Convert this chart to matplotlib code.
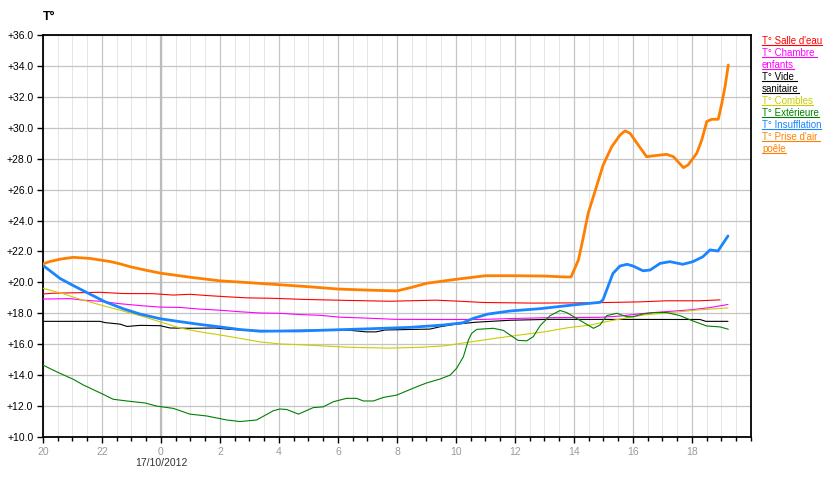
import matplotlib
matplotlib.use("Agg")
import matplotlib.pyplot as plt
from matplotlib.lines import Line2D
import numpy as np

plt.rcParams['font.family'] = ['Liberation Sans', 'DejaVu Sans']

# hours since 20:00 on 16/10/2012
x_tick_hours = [0, 2, 4, 6, 8, 10, 12, 14, 16, 18, 20, 22]
x_tick_labels = ["20", "22", "0", "2", "4", "6", "8", "10", "12", "14", "16", "18"]
date_label = "17/10/2012"
y_ticks = [10, 12, 14, 16, 18, 20, 22, 24, 26, 28, 30, 32, 34, 36]

salle_h = [0.0, 0.35, 1.93, 2.7, 3.73, 4.41, 4.98, 5.55, 6.23, 6.9, 7.8, 8.82, 10.18, 11.76, 13.3, 14.14, 14.93,
           16.62, 18.43, 19.45, 20.24, 21.14, 22.27, 22.95]
salle_v = [19.25, 19.3, 19.36, 19.28, 19.27, 19.18, 19.23, 19.15, 19.07, 19.0, 18.97, 18.9, 18.84, 18.78, 18.85,
           18.78, 18.7, 18.66, 18.68, 18.71, 18.74, 18.81, 18.81, 18.87]

chambre_h = [0.0, 0.92, 1.36, 1.93, 2.61, 3.29, 3.97, 4.64, 5.32, 6.0, 6.68, 7.36, 8.03, 8.71, 9.39, 10.07, 11.08,
             11.93, 13.46, 14.81, 15.83, 17.19, 18.88, 19.56, 20.24, 20.92, 21.93, 22.61, 23.22]
chambre_v = [18.92, 18.95, 18.85, 18.78, 18.62, 18.5, 18.4, 18.38, 18.27, 18.2, 18.1, 18.02, 18.0, 17.92, 17.87,
             17.75, 17.68, 17.61, 17.6, 17.6, 17.66, 17.72, 17.74, 17.82, 17.97, 18.08, 18.22, 18.37, 18.57]

vide_h = [0.0, 1.93, 2.1, 2.61, 2.85, 3.29, 3.97, 4.31, 4.98, 5.83, 6.34, 7.02, 7.86, 8.71, 9.73, 10.41, 10.95,
          11.29, 11.59, 13.12, 13.46, 13.97, 14.64, 15.83, 17.19, 22.27, 22.47, 23.22]
vide_v = [17.48, 17.48, 17.4, 17.3, 17.15, 17.22, 17.2, 17.05, 17.03, 17.05, 16.96, 16.9, 16.88, 16.9, 16.92, 16.9,
          16.8, 16.8, 16.92, 16.98, 17.13, 17.29, 17.42, 17.55, 17.61, 17.6, 17.48, 17.48]

combles_h = [0.0, 0.68, 1.15, 1.93, 2.61, 3.29, 3.97, 4.64, 5.32, 6.0, 6.68, 7.36, 8.03, 8.71, 9.39, 10.4, 11.76,
             12.78, 13.63, 14.14, 15.32, 16.17, 17.02, 17.8, 18.54, 19.39, 20.34, 21.25, 22.1, 23.22]
combles_v = [19.62, 19.27, 18.97, 18.55, 18.2, 17.85, 17.45, 17.05, 16.8, 16.6, 16.38, 16.15, 16.02, 15.97, 15.9,
             15.8, 15.75, 15.8, 15.9, 16.05, 16.38, 16.6, 16.81, 17.07, 17.24, 17.57, 17.89, 18.04, 18.2, 18.35]

ext_h = [0.0, 0.46, 1.03, 1.37, 1.93, 2.38, 2.84, 3.46, 3.85, 4.42, 4.98, 5.55, 6.23, 6.68, 7.24, 7.81, 8.03, 8.26,
         8.66, 9.16, 9.5, 9.84, 10.29, 10.63, 10.86, 11.2, 11.54, 11.99, 12.67, 13.01, 13.46, 13.8, 14.02, 14.25,
         14.42, 14.53, 14.7, 15.26, 15.6, 15.83, 16.1, 16.4, 16.62, 16.85, 17.19, 17.53, 17.75, 18.09, 18.43, 18.66,
         18.88, 19.11, 19.45, 19.79, 20.01, 20.35, 20.69, 21.14, 21.59, 22.04, 22.5, 22.95, 23.23]
ext_v = [14.65, 14.22, 13.73, 13.36, 12.86, 12.44, 12.33, 12.2, 12.0, 11.85, 11.48, 11.36, 11.1, 11.0, 11.1, 11.7,
         11.81, 11.78, 11.48, 11.9, 11.95, 12.28, 12.5, 12.5, 12.33, 12.33, 12.56, 12.71, 13.25, 13.5, 13.75, 14.0,
         14.44, 15.19, 16.27, 16.7, 16.96, 17.03, 16.9, 16.6, 16.25, 16.22, 16.49, 17.2, 17.85, 18.18, 18.05, 17.67,
         17.29, 17.03, 17.24, 17.85, 18.0, 17.78, 17.78, 17.96, 18.05, 18.05, 17.85, 17.5, 17.18, 17.12, 16.97]

insuf_h = [0.0, 0.58, 1.02, 1.53, 2.1, 2.71, 3.29, 3.97, 4.64, 5.32, 6.0, 6.68, 7.36, 7.86, 8.71, 9.73, 11.08, 12.44,
           13.56, 14.24, 14.58, 15.08, 15.83, 16.85, 17.97, 18.88, 18.98, 19.15, 19.32, 19.56, 19.8, 20.0, 20.34,
           20.58, 20.92, 21.25, 21.69, 22.03, 22.37, 22.61, 22.88, 23.22]
insuf_v = [21.1, 20.25, 19.8, 19.3, 18.75, 18.3, 17.95, 17.65, 17.46, 17.28, 17.12, 16.95, 16.84, 16.85, 16.86, 16.92,
           17.0, 17.09, 17.24, 17.39, 17.67, 17.95, 18.15, 18.3, 18.54, 18.71, 18.86, 19.72, 20.58, 21.06, 21.17,
           21.06, 20.75, 20.8, 21.23, 21.34, 21.17, 21.34, 21.66, 22.1, 22.03, 23.0]

poele_h = [0.0, 0.24, 0.58, 1.02, 1.59, 1.93, 2.27, 2.61, 2.98, 3.46, 3.97, 5.0, 6.0, 7.0, 8.0, 9.0, 10.0, 11.0,
           12.0, 12.5, 13.0, 14.0, 15.0, 16.0, 17.0, 17.7, 17.9, 18.15, 18.32, 18.48, 18.71, 18.99, 19.28, 19.56,
           19.73, 19.9, 20.18, 20.46, 20.75, 21.14, 21.37, 21.71, 21.87, 22.16, 22.33, 22.5, 22.67, 22.89, 23.01,
           23.12, 23.23]
poele_v = [21.2, 21.35, 21.5, 21.62, 21.55, 21.45, 21.35, 21.2, 21.0, 20.8, 20.6, 20.33, 20.1, 19.98, 19.85, 19.72,
           19.57, 19.5, 19.45, 19.68, 19.94, 20.2, 20.43, 20.43, 20.41, 20.35, 20.35, 21.45, 22.95, 24.47, 25.87,
           27.6, 28.78, 29.53, 29.8, 29.64, 28.88, 28.13, 28.2, 28.28, 28.13, 27.42, 27.6, 28.35, 29.2, 30.4, 30.55,
           30.55, 31.58, 32.66, 34.06]

series = [
    ("T° Salle d'eau", salle_h, salle_v, "#ff0000", 0.8),
    ("T° Chambre enfants", chambre_h, chambre_v, "#ff00ff", 0.8),
    ("T° Vide sanitaire", vide_h, vide_v, "#000000", 0.8),
    ("T° Combles", combles_h, combles_v, "#cccc00", 0.8),
    ("T° Extérieure", ext_h, ext_v, "#008000", 0.8),
    ("T° Insufflation", insuf_h, insuf_v, "#1a85ff", 2.0),
    ("T° Prise d'air poêle", poele_h, poele_v, "#ff8000", 2.0),
]
legend_lines = [["T° Salle d'eau"], ["T° Chambre ", "enfants"], ["T° Vide ", "sanitaire"], ["T° Combles"],
                ["T° Extérieure"], ["T° Insufflation"], ["T° Prise d'air ", "poêle"]]

W, H = 837, 480
fig = plt.figure(figsize=(W / 100, H / 100), dpi=100)
fig.patch.set_facecolor("white")
L, R, T, B = 43, 751, 35, 437
ax = fig.add_axes([L / W, 1 - B / H, (R - L) / W, (B - T) / H])

for name, hh, vv, col, lw in series:
    ax.plot(hh, vv, color=col, lw=lw, solid_joinstyle='round', solid_capstyle='round', zorder=3)

ax.set_xlim(0, 24)
ax.set_ylim(10, 36)
ax.set_yticks(y_ticks)
ax.set_yticklabels(["+%.1f" % v for v in y_ticks])
ax.set_xticks(x_tick_hours)
ax.set_xticklabels(x_tick_labels)
ax.set_xticks(np.arange(0, 24.01, 0.5), minor=True)

ax.xaxis.grid(True, which='minor', color='#e6e6e6', lw=0.75, zorder=0)
ax.xaxis.grid(True, which='major', color='#c4c4c4', lw=0.9, zorder=0)
ax.yaxis.grid(True, which='major', color='#c4c4c4', lw=0.9, zorder=0)
ax.axvline(4, color='#bcbcbc', lw=1.6, zorder=1)
ax.set_axisbelow(True)

for sp in ax.spines.values():
    sp.set_color('black')
    sp.set_linewidth(1.3)

ax.tick_params(axis='y', which='major', length=4, width=1, pad=3, labelsize=7.5, labelcolor='black')
ax.tick_params(axis='x', which='major', length=4, width=1, pad=3, labelsize=7.5, labelcolor='#a09a94')
ax.tick_params(axis='x', which='minor', length=3, width=1)

fig.text(161 / W, 1 - 463 / H, date_label, ha='center', va='center', fontsize=7.5, color='#333333')
fig.text(43 / W, 1 - 17 / H, "T°", ha='left', va='center', fontsize=9, fontweight='bold', color='black')

# legend as underlined coloured text
texts = []
y = 41
for (name, hh, vv, col, lw), lines in zip(series, legend_lines):
    for ln in lines:
        t = fig.text(762 / W, 1 - y / H, ln, ha='left', va='center', fontsize=7, color=col)
        texts.append((t, col))
        y += 12

fig.canvas.draw()
renderer = fig.canvas.get_renderer()
for t, col in texts:
    bb = t.get_window_extent(renderer)
    yy = (bb.y0 + 1.5) / H
    fig.add_artist(Line2D([bb.x0 / W, bb.x1 / W], [yy, yy], transform=fig.transFigure, color=col, lw=0.8))

fig.savefig("out.png", dpi=100)
